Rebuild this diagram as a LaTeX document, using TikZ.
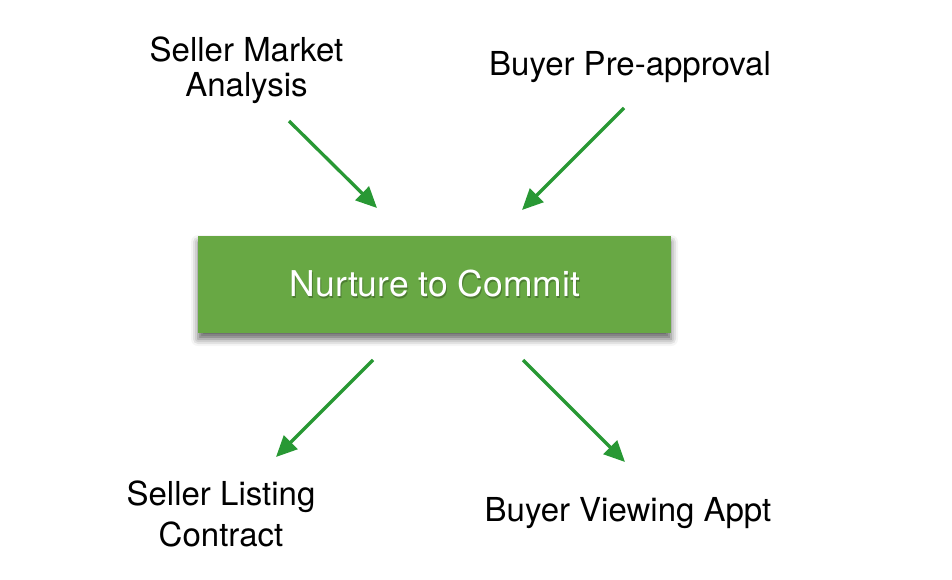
\documentclass[tikz,border=0pt]{standalone}
\usepackage{fontspec}
\setmainfont{TeX Gyre Heros}
\usetikzlibrary{arrows.meta,shadows.blur}
\definecolor{arrowgreen}{RGB}{40,152,52}
\definecolor{boxgreen}{RGB}{104,168,68}
\tikzset{
  label32/.style={font=\fontsize{33}{35}\selectfont, inner sep=0pt, anchor=base, align=center, text=black},
  flowarrow/.style={draw=arrowgreen, line width=3.3pt, -{Triangle[length=21pt,width=19pt]}},
  bigbox/.style={fill=boxgreen, minimum width=473pt, minimum height=97pt, inner sep=0pt,
     blur shadow={shadow xshift=0pt, shadow yshift=-6pt, shadow blur radius=7pt, shadow opacity=60}},
}
\begin{document}
\begin{tikzpicture}[x=1pt,y=-1pt]
\useasboundingbox (0,0) rectangle (952,580);
% central box
\node[bigbox] (box) at (434.5,284.5) {};
\node[font=\fontsize{35.5}{40}\selectfont, text=black, opacity=0.25, inner sep=0pt, anchor=base] (boxshadowtext) at (436,298) {Nurture to Commit};
\node[font=\fontsize{35.5}{40}\selectfont, text=white, inner sep=0pt, anchor=base] (boxtext) at (435,296) {Nurture to Commit};
% labels
\node[label32] (sma) at (246.5,97) {Seller Market\\Analysis};
\node[label32] (bpa) at (630,75.7) {Buyer Pre-approval};
\node[label32, font=\fontsize{33}{41}\selectfont] (slc) at (221,546) {Seller Listing\\Contract};
\node[label32] (bva) at (628,521.5) {Buyer Viewing Appt};
% arrow end points
\coordinate (a1s) at (289,121);
\coordinate (a1e) at (377,208);
\coordinate (a2s) at (624,108);
\coordinate (a2e) at (522,210);
\coordinate (a3s) at (373,360);
\coordinate (a3e) at (276,457);
\coordinate (a4s) at (523,360);
\coordinate (a4e) at (625,462);
\draw[flowarrow] (a1s) -- (a1e);
\draw[flowarrow] (a2s) -- (a2e);
\draw[flowarrow] (a3s) -- (a3e);
\draw[flowarrow] (a4s) -- (a4e);
\end{tikzpicture}
\end{document}
